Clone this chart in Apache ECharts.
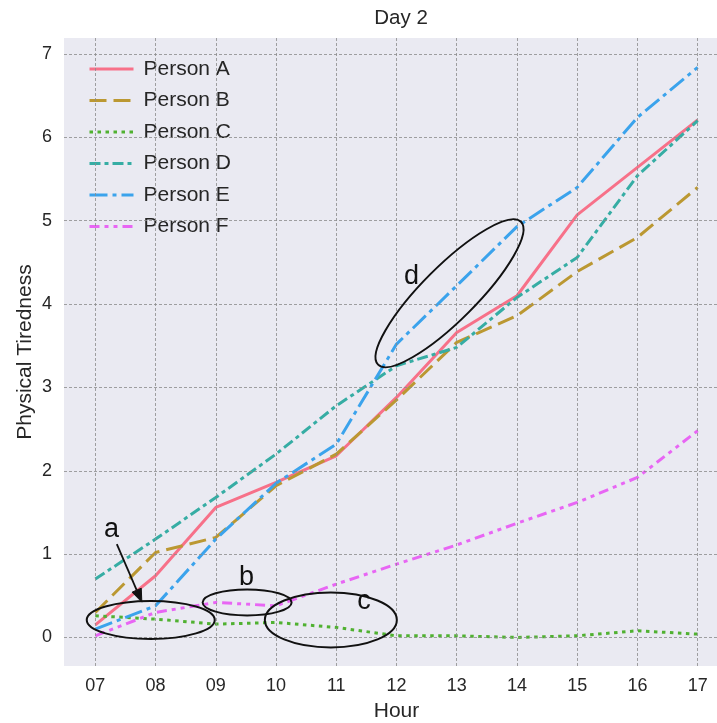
<!DOCTYPE html>
<html>
<head>
<meta charset="utf-8">
<script src="https://cdn.jsdelivr.net/npm/echarts@6/dist/echarts.min.js"></script>
<style>
html,body{margin:0;padding:0;background:#fff;}
#chart{width:717px;height:723px;}
</style>
</head>
<body>
<div id="chart"></div>
<script>
const hours = [7, 8, 9, 10, 11, 12, 13, 14, 15, 16, 17];
const personA = [0.15, 0.74, 1.56, 1.86, 2.18, 2.88, 3.66, 4.10, 5.07, 5.64, 6.21];
const personB = [0.30, 1.02, 1.20, 1.82, 2.20, 2.85, 3.54, 3.86, 4.39, 4.80, 5.40];
const personC = [0.26, 0.22, 0.16, 0.18, 0.12, 0.02, 0.02, 0.00, 0.02, 0.08, 0.04];
const personD = [0.70, 1.18, 1.68, 2.20, 2.78, 3.26, 3.48, 4.08, 4.56, 5.54, 6.20];
const personE = [0.10, 0.38, 1.18, 1.85, 2.32, 3.52, 4.22, 4.93, 5.40, 6.24, 6.84];
const personF = [0.02, 0.30, 0.42, 0.38, 0.64, 0.88, 1.11, 1.37, 1.62, 1.92, 2.48];
const names = ['Person A', 'Person B', 'Person C', 'Person D', 'Person E', 'Person F'];
const xTicks = [7, 8, 9, 10, 11, 12, 13, 14, 15, 16, 17];
const xTickLabels = ['07', '08', '09', '10', '11', '12', '13', '14', '15', '16', '17'];
const yTicks = [0, 1, 2, 3, 4, 5, 6, 7];
const colors = ['#f77189', '#bb9832', '#50b131', '#36ada4', '#3ba3ec', '#e866f4'];
const dashes = ['solid', [17, 7], [3.5, 4.5], [11, 4, 4, 4], [18, 5, 4, 5], [10, 5, 4, 5, 4, 5]];
const allValues = [personA, personB, personC, personD, personE, personF];

// annotations (data coordinates)
const ellipses = [
  {c: [7.92, 0.21], rx: 64, ry: 19, rot: 0},
  {c: [9.52, 0.42], rx: 44.5, ry: 13, rot: 0},
  {c: [10.91, 0.21], rx: 66, ry: 27.5, rot: 0},
  {c: [12.88, 4.13], rx: 101, ry: 27, rot: Math.PI / 4}
];
const letters = [
  {t: 'a', p: [7.27, 1.32]},
  {t: 'b', p: [9.51, 0.74]},
  {t: 'c', p: [11.46, 0.45]},
  {t: 'd', p: [12.25, 4.35]}
];
const arrowFrom = [7.357, 1.12];
const arrowTo = [7.772, 0.424];

const FONT = "'Liberation Sans', Arial, sans-serif";
const chart = echarts.init(document.getElementById('chart'), null, {renderer: 'canvas'});

const gridLineStyle = {color: '#8a8a8a', type: [3, 2], width: 0.8};

const series = names.map((n, i) => ({
  name: n,
  type: 'line',
  data: hours.map((h, j) => [h, allValues[i][j]]),
  symbol: 'none',
  showSymbol: false,
  lineStyle: {color: colors[i], width: 3, type: dashes[i], cap: 'butt'},
  itemStyle: {color: colors[i]},
  z: 2
}));

// grid lines drawn from tick arrays
series.push({
  name: '__grid',
  type: 'line',
  data: [],
  silent: true,
  z: 1,
  markLine: {
    silent: true, symbol: 'none', animation: false,
    label: {show: false},
    lineStyle: gridLineStyle,
    emphasis: {disabled: true},
    data: xTicks.map(v => ({xAxis: v})).concat(yTicks.map(v => ({yAxis: v})))
  }
});

const option = {
  animation: false,
  backgroundColor: '#ffffff',
  title: {
    text: 'Day 2', left: 396, top: 3, textAlign: 'center',
    textStyle: {fontFamily: FONT, fontSize: 20.5, fontWeight: 'normal', color: '#262626'}
  },
  legend: {
    orient: 'vertical', left: 83, top: 53.5,
    itemWidth: 44, itemHeight: 14, itemGap: 10.5,
    itemStyle: {opacity: 0},
    lineStyle: {width: 3},
    textStyle: {fontFamily: FONT, fontSize: 21, color: '#262626', padding: [0, 0, 0, 5]},
    data: names
  },
  grid: {
    left: 64, top: 38, width: 665, height: 628,
    outerBoundsMode: 'none',
    show: true, backgroundColor: '#EAEAF2', borderWidth: 0, containLabel: false
  },
  xAxis: {
    type: 'value', min: 6.48, max: 17.52,
    name: 'Hour', nameLocation: 'middle', nameGap: 34.5, nameMoveOverlap: false,
    nameTextStyle: {fontFamily: FONT, fontSize: 21, color: '#262626'},
    axisLine: {show: false},
    axisTick: {show: false, customValues: xTicks},
    axisLabel: {fontFamily: FONT, fontSize: 18, color: '#262626', margin: 11,
      customValues: xTicks,
      formatter: v => xTickLabels[xTicks.indexOf(Math.round(v))] || ''},
    splitLine: {show: false}
  },
  yAxis: {
    type: 'value', min: -0.3425, max: 7.1925,
    name: 'Physical Tiredness', nameLocation: 'middle', nameGap: 28, nameMoveOverlap: false,
    nameTextStyle: {fontFamily: FONT, fontSize: 21, color: '#262626'},
    axisLine: {show: false},
    axisTick: {show: false, customValues: yTicks},
    axisLabel: {fontFamily: FONT, fontSize: 18, color: '#262626', margin: 12,
      customValues: yTicks,
      formatter: v => String(Math.round(v))},
    splitLine: {show: false}
  },
  series: series
};
chart.setOption(option);

function px(p) { return chart.convertToPixel({gridIndex: 0}, p); }
const graphics = [];
ellipses.forEach(e => {
  const c = px(e.c);
  graphics.push({
    type: 'ellipse', x: c[0], y: c[1], rotation: e.rot, z: 100,
    shape: {cx: 0, cy: 0, rx: e.rx, ry: e.ry},
    style: {fill: null, stroke: '#111', lineWidth: 2}
  });
});
letters.forEach(l => {
  const c = px(l.p);
  graphics.push({
    type: 'text', x: c[0], y: c[1] + 2, z: 100,
    style: {text: l.t, fontFamily: FONT, fontSize: 27, fill: '#111', align: 'center', verticalAlign: 'middle'}
  });
});
(function () {
  const a = px(arrowFrom), b = px(arrowTo);
  const dx = b[0] - a[0], dy = b[1] - a[1];
  const len = Math.sqrt(dx * dx + dy * dy);
  const ux = dx / len, uy = dy / len;
  const hl = 13, hw = 5;
  const bx = b[0] - ux * hl, by = b[1] - uy * hl;
  graphics.push({
    type: 'line', z: 100,
    shape: {x1: a[0], y1: a[1], x2: bx, y2: by},
    style: {stroke: '#111', lineWidth: 1.8}
  });
  graphics.push({
    type: 'polygon', z: 100,
    shape: {points: [[b[0], b[1]], [bx - uy * hw, by + ux * hw], [bx + uy * hw, by - ux * hw]]},
    style: {fill: '#111', stroke: '#111', lineWidth: 1}
  });
})();
chart.setOption({graphic: graphics});
</script>
</body>
</html>
